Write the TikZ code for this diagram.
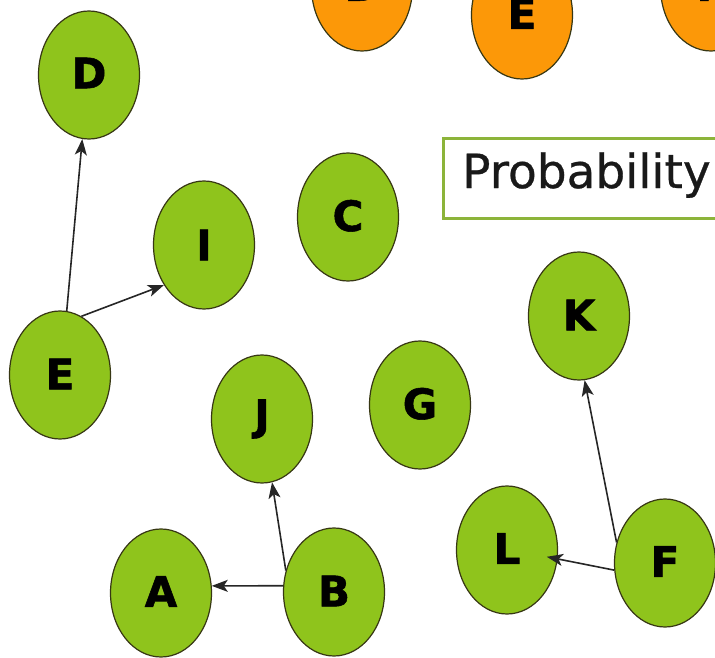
\documentclass[tikz,border=0pt]{standalone}
\usepackage{fontspec}
\setmainfont{DejaVu Sans}
\newfontfamily\heavyfont[FakeBold=1.3]{DejaVu Sans Bold}
\newfontfamily\probfont[FakeBold=0.6]{DejaVu Sans}
\usetikzlibrary{shapes.geometric,arrows.meta}
\definecolor{leaf}{RGB}{143,196,28}
\definecolor{tang}{RGB}{252,152,8}
\definecolor{rim}{RGB}{55,55,20}
\definecolor{boxgreen}{RGB}{140,180,58}
\tikzset{
  ball/.style={ellipse, draw=rim, line width=1.2pt, fill=leaf, minimum width=101pt, minimum height=128pt, inner sep=0pt,
    font=\fontsize{42}{42}\heavyfont, text=black},
  oball/.style={ball, fill=tang},
  arr/.style={line width=1.6pt, draw=black!85, -{Stealth[length=16pt,width=12pt,inset=4pt]}},
}
\begin{document}
\begin{tikzpicture}[x=1pt,y=-1pt]
\useasboundingbox (0,0) rectangle (715,658);
\begin{scope}
\clip (0,0) rectangle (715,658);
% orange row (cut at top)
\node[oball] (oD) at (362,-13) {\raisebox{3pt}{D}};
\node[oball] (oE) at (522,15) {\raisebox{3pt}{E}};
\node[oball] (oF) at (711,-13) {\raisebox{3pt}{F}};
% Probability box
\node[draw=boxgreen, line width=3pt, fill=white, minimum width=330pt, minimum height=80pt, anchor=north west,
  inner sep=0pt] (prob) at (442,137) {};
\node[anchor=base west, inner sep=0pt, font=\fontsize{47}{47}\probfont, text=black!90] (probtext) at (462,188) {Probability};
% green nodes
\node[ball] (D) at (89,75) {\raisebox{4pt}{D}};
\node[ball] (I) at (204,245) {I};
\node[ball] (C) at (348,217) {\raisebox{3pt}{C}};
\node[ball] (E) at (60,375) {\raisebox{2pt}{E}};
\node[ball] (J) at (262,419) {J};
\node[ball] (G) at (420,405) {\raisebox{3pt}{G}};
\node[ball] (K) at (579,316) {\raisebox{2pt}{K}};
\node[ball] (A) at (161,593) {\raisebox{3pt}{A}};
\node[ball] (B) at (334,592) {\raisebox{2pt}{B}};
\node[ball] (L) at (507,550) {\raisebox{3pt}{L}};
\node[ball] (F) at (665,563) {\raisebox{3pt}{F}};
% connectors
\draw[arr] (E.84) -- (D.-96);
\draw[arr] (E.70) -- (I.-135);
\draw[arr] (B.156) -- (J.-81);
\draw[arr] (B.173) -- (A.8);
\draw[arr] (F.157) -- (K.-85);
\draw[arr, shorten >=-11pt] (F.-172) -- (L.-10);
\end{scope}
\end{tikzpicture}
\end{document}
